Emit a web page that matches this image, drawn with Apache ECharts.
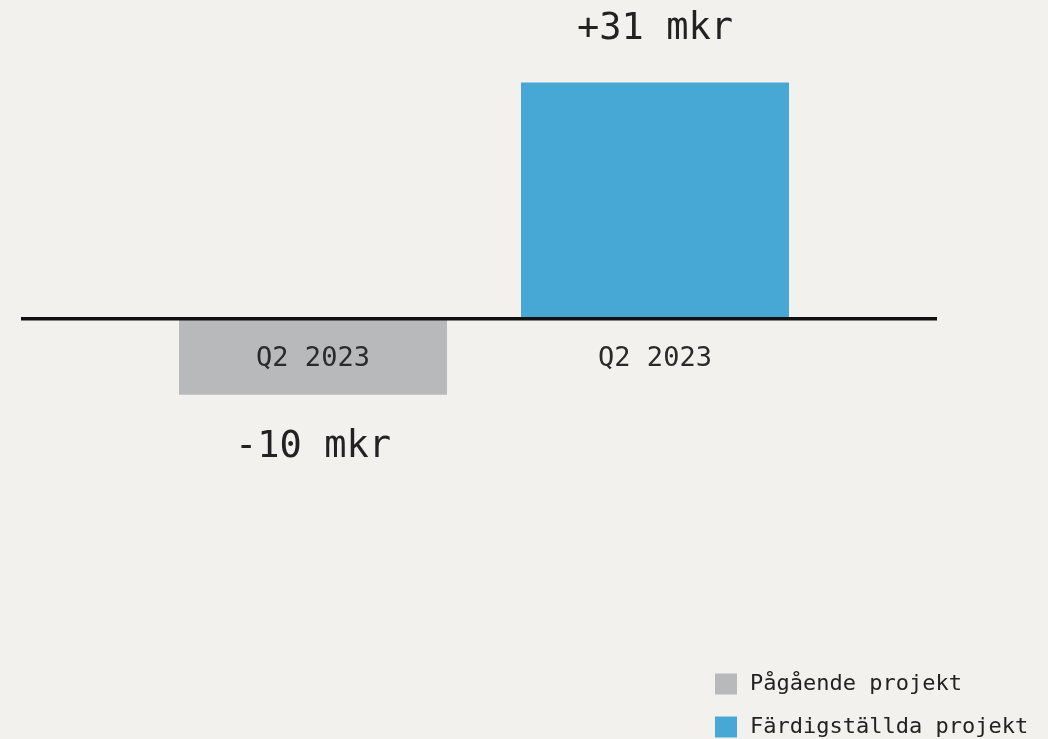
<!DOCTYPE html>
<html>
<head>
<meta charset="utf-8">
<script src="https://cdn.jsdelivr.net/npm/echarts@6/dist/echarts.min.js"></script>
<style>
html,body{margin:0;padding:0;background:#f2f1ed;}
#c{width:1048px;height:739px;}
</style>
</head>
<body>
<div id="c"></div>
<script>
const categories = ['Q2 2023', 'Q2 2023 '];
const seriesNames = ['Pågående projekt', 'Färdigställda projekt'];
const ongoingValues = [-10, '-'];
const completedValues = ['-', 31];
const valueLabels = ['-10 mkr', '+31 mkr'];

const FONT = '"DejaVu Sans Mono", "Liberation Mono", monospace';
const chart = echarts.init(document.getElementById('c'), null, {renderer: 'canvas'});

const legendBase = {
  orient: 'vertical',
  left: 710,
  itemWidth: 22, itemHeight: 21,
  icon: 'rect',
  textStyle: {fontFamily: FONT, fontSize: 22, color: '#222', padding: [0, 0, 0, 8]}
};

const option = {
  backgroundColor: '#f2f1ed',
  animation: false,
  grid: {left: 142, right: 222, top: 14, height: 457},
  legend: [
    Object.assign({}, legendBase, {top: 668, data: [seriesNames[0]]}),
    Object.assign({}, legendBase, {top: 711, data: [seriesNames[1]]})
  ],
  xAxis: {
    type: 'category',
    data: categories,
    position: 'bottom',
    offset: 0,
    z: 10,
    axisLine: {show: false, onZero: false},
    axisTick: {show: false},
    axisLabel: {
      margin: 27,
      fontFamily: FONT, fontSize: 27, color: '#2a2a2a',
      formatter: v => v.trim()
    }
  },
  yAxis: {
    type: 'value', min: -20, max: 40,
    axisLine: {show: false},
    axisTick: {show: false},
    axisLabel: {show: false},
    splitLine: {show: false}
  },
  series: [
    {
      name: seriesNames[0], type: 'bar',
      data: ongoingValues,
      barWidth: 268, barGap: '-100%',
      itemStyle: {color: '#b8b9bb'},
      label: {
        show: true, position: 'bottom', distance: 34,
        fontFamily: FONT, fontSize: 37, color: '#222',
        formatter: () => valueLabels[0]
      }
    },
    {
      name: seriesNames[1], type: 'bar',
      data: completedValues,
      barWidth: 268, barGap: '-100%',
      itemStyle: {color: '#47a8d5'},
      label: {
        show: true, position: 'top', distance: 35,
        fontFamily: FONT, fontSize: 37, color: '#222',
        formatter: () => valueLabels[1]
      }
    }
  ]
};
chart.setOption(option);

const zeroY = chart.convertToPixel({yAxisIndex: 0}, 0);
const bottomY = chart.convertToPixel({yAxisIndex: 0}, -20);
chart.setOption({
  xAxis: {offset: zeroY - bottomY},
  graphic: [{
    type: 'line', z: 100,
    shape: {x1: 21, y1: zeroY, x2: 937, y2: zeroY},
    style: {stroke: '#111', lineWidth: 3.5}
  }]
});
</script>
</body>
</html>
